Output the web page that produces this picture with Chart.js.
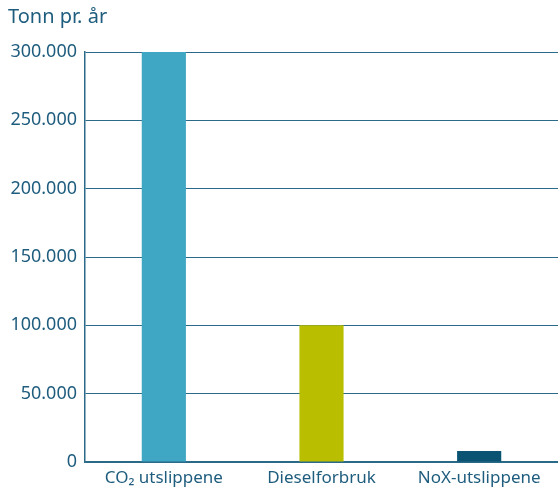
<!DOCTYPE html>
<html>
<head>
<meta charset="utf-8">
<script src="https://cdn.jsdelivr.net/npm/chart.js@4"></script>
<style>
  html, body { margin: 0; padding: 0; background: #fff; }
  #wrap { width: 558px; height: 491px; }
</style>
</head>
<body>
<div id="wrap"><canvas id="emChart"></canvas></div>
<script>
const categories = ['CO\u2082 utslippene', 'Dieselforbruk', 'NoX-utslippene'];
const values = [300000, 100000, 8000];
const barColors = ['#3fa6c4', '#b9be00', '#0b5373'];

const textColor = '#1f5d7e';
const lineColor = '#2b6a89';

Chart.defaults.font.family = '"Noto Sans", "Open Sans", sans-serif';

new Chart(document.getElementById('emChart'), {
  type: 'bar',
  data: {
    labels: categories,
    datasets: [{
      data: values,
      backgroundColor: barColors,
      barPercentage: 0.28,
      categoryPercentage: 1
    }]
  },
  options: {
    responsive: true,
    maintainAspectRatio: false,
    animation: false,
    layout: { padding: { left: 8, right: 0, top: 5, bottom: 0 } },
    plugins: {
      legend: { display: false },
      tooltip: { enabled: false },
      title: {
        display: true,
        text: 'Tonn pr. år',
        align: 'start',
        color: textColor,
        font: { size: 20, weight: 'normal' },
        padding: { top: 0, bottom: 23 }
      }
    },
    scales: {
      x: {
        afterFit: (axis) => { axis.height = 29; },
        grid: { display: false, drawTicks: false },
        border: { color: lineColor, width: 1.5 },
        ticks: { color: textColor, font: { size: 17 }, padding: 6 }
      },
      y: {
        min: 0,
        max: 300000,
        afterFit: (axis) => { axis.width = 77; },
        grid: { color: lineColor, lineWidth: 1, drawTicks: false },
        border: { color: lineColor, width: 1.5 },
        ticks: {
          stepSize: 50000,
          color: textColor,
          font: { size: 18 },
          padding: 8,
          callback: (v) => v === 0 ? '0' : v.toLocaleString('de-DE')
        }
      }
    }
  }
});
</script>
</body>
</html>
